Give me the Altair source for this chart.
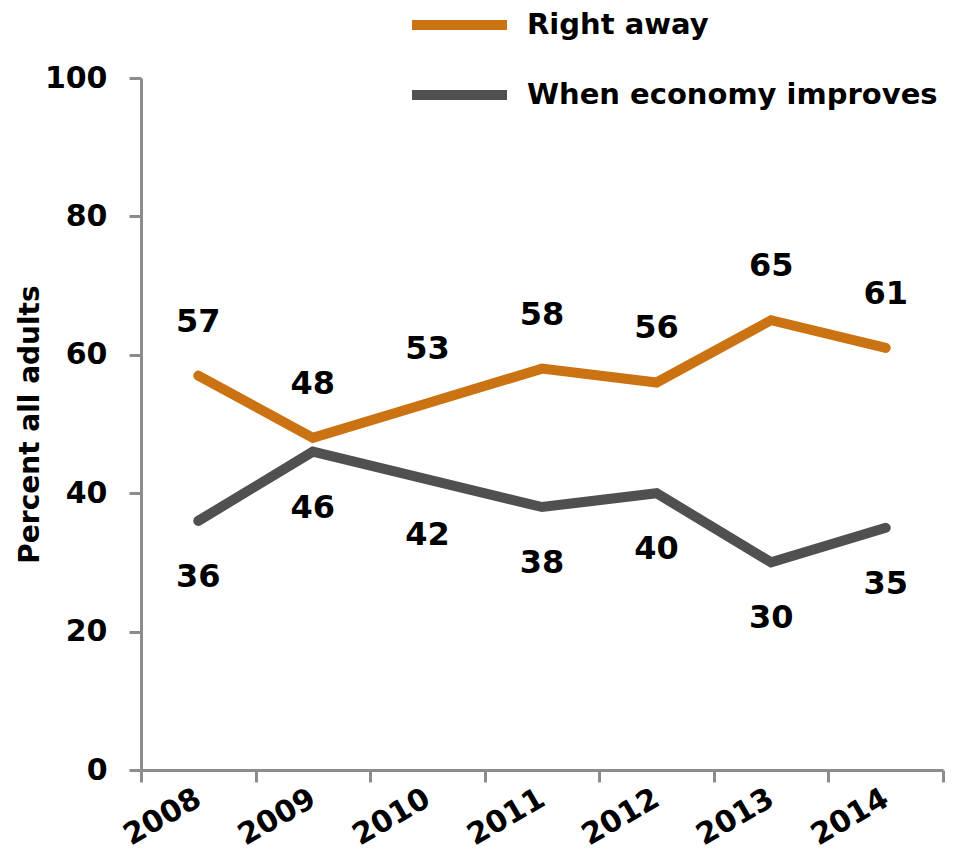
import altair as alt
import pandas as pd

years = ["2008", "2009", "2010", "2011", "2012", "2013", "2014"]
right_away = [57, 48, 53, 58, 56, 65, 61]
when_improves = [36, 46, 42, 38, 40, 30, 35]
series = ["Right away", "When economy improves"]
colors = ["#CB7312", "#505050"]
y_ticks = [0, 20, 40, 60, 80, 100]

rows = []
for yr, a, b in zip(years, right_away, when_improves):
    rows.append({"year": yr, "value": a, "series": series[0]})
    rows.append({"year": yr, "value": b, "series": series[1]})
df = pd.DataFrame(rows)

FONT = "DejaVu Sans"
AX = "#8C8C8C"

x = alt.X(
    "year:O",
    bandPosition=0.5,
    scale=alt.Scale(type="band", paddingInner=0, paddingOuter=0),
    axis=alt.Axis(
        title=None,
        labelAngle=-30,
        labelAlign="right",
        labelBaseline="middle",
        labelPadding=14,
        tickBand="extent",
    ),
)
y = alt.Y(
    "value:Q",
    scale=alt.Scale(domain=[0, 100], nice=False),
    axis=alt.Axis(
        values=y_ticks,
        title="Percent all adults",
        grid=False,
        labelPadding=22,
        titlePadding=0,
        titleFontSize=28,
    ),
)

color = alt.Color(
    "series:N",
    scale=alt.Scale(domain=series, range=colors),
    legend=alt.Legend(
        orient="none",
        legendX=266,
        legendY=-68,
        title=None,
        direction="vertical",
        symbolType="stroke",
        symbolSize=9025,
        symbolStrokeWidth=10,
        clipHeight=30,
        rowPadding=40,
        padding=0,
        labelOffset=15,
        labelFont=FONT,
        labelFontWeight="bold",
        labelFontSize=29,
        labelColor="black",
        labelLimit=600,
    ),
)

base = alt.Chart(df)

lines = base.mark_line(strokeWidth=10, strokeCap="round", strokeJoin="miter").encode(
    x=x, y=y, color=color
)

text_style = dict(font=FONT, fontWeight="bold", fontSize=32, color="black", baseline="middle")

top_labels = base.transform_filter(alt.datum.series == series[0]).mark_text(dy=-54, **text_style).encode(
    x=x, y=y, text="value:Q"
)
bottom_labels = base.transform_filter(alt.datum.series == series[1]).mark_text(dy=56, **text_style).encode(
    x=x, y=y, text="value:Q"
)

chart = (
    alt.layer(lines, top_labels, bottom_labels)
    .properties(
        width=802,
        height=692,
        padding={"left": 133, "top": 70, "right": 2, "bottom": 81},
        autosize=alt.AutoSizeParams(type="none"),
    )
    .configure_view(strokeWidth=0)
    .configure_axis(
        domainColor=AX,
        domainWidth=3,
        tickColor=AX,
        tickWidth=3,
        tickSize=12,
        labelFont=FONT,
        labelFontWeight="bold",
        labelFontSize=30,
        labelColor="black",
        titleFont=FONT,
        titleFontWeight="bold",
        titleColor="black",
    )
)

chart.save("out.html", embed_options={"renderer": "svg", "actions": False})
